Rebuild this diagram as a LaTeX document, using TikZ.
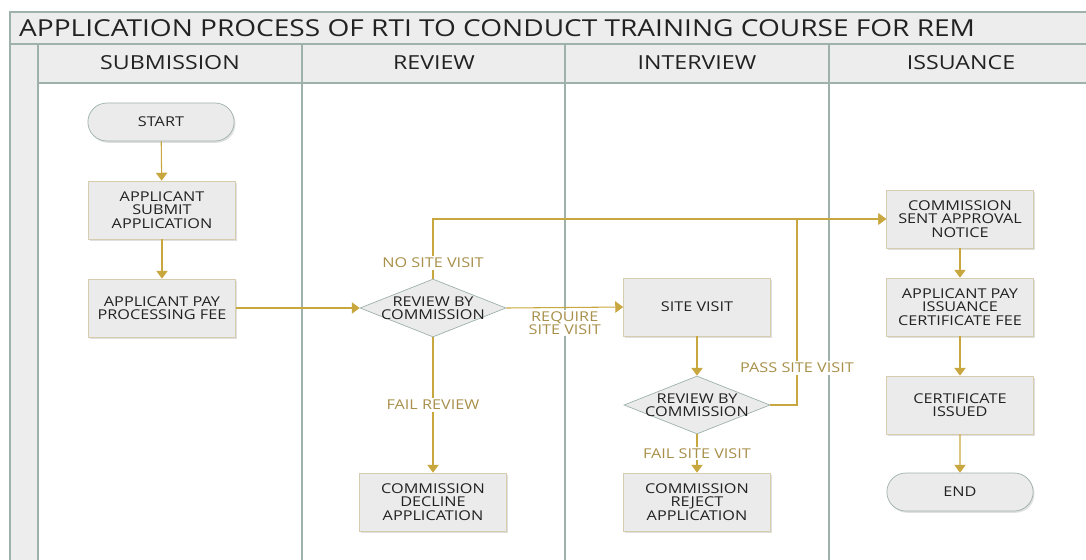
\documentclass[tikz,border=0pt]{standalone}
\usepackage{fontspec}
\setmainfont{Open Sans}[FakeStretch=1.2]
\usetikzlibrary{shapes.geometric,shapes.misc,arrows.meta,positioning,shadows}

\definecolor{flowgold}{HTML}{C9A73F}
\definecolor{labelgold}{HTML}{A8904A}
\definecolor{lanegray}{HTML}{9EB1AB}
\definecolor{boxfill}{HTML}{EBEBEB}
\definecolor{boxedge}{HTML}{D5CDAE}
\definecolor{headfill}{HTML}{EDEDED}
\definecolor{inkdark}{HTML}{222222}

\tikzset{
    boxfont/.style={font=\fontsize{7.7}{7.5}\selectfont},
    process/.style={rectangle, draw=boxedge, fill=boxfill, align=center, boxfont, text=inkdark,
        minimum width=2.94cm, minimum height=1.16cm, inner sep=1pt,
        drop shadow={shadow xshift=0.8pt, shadow yshift=-1pt, opacity=0.25}},
    decision/.style={diamond, aspect=2.5, draw=lanegray, fill=boxfill, align=center, boxfont, text=inkdark,
        minimum width=2.92cm, minimum height=1.16cm, inner sep=-1.5pt},
    terminal/.style={rounded rectangle, draw=lanegray, fill=boxfill, boxfont, text=inkdark,
        minimum width=3.16cm, minimum height=0.76cm,
        drop shadow={shadow xshift=0.8pt, shadow yshift=-1pt, opacity=0.25}},
    flow/.style={draw=flowgold, line width=0.6pt, -{Triangle[width=6.5pt,length=4.5pt]}},
    flowlabel/.style={fill=white, text=labelgold, boxfont, inner sep=1pt, align=center},
    lanehead/.style={font=\fontsize{11}{12}\selectfont, text=inkdark},
    laneline/.style={draw=lanegray, line width=0.7pt}
}

\begin{document}
\begin{tikzpicture}[x=0.02cm, y=-0.02cm]
    \useasboundingbox (0,0) rectangle (1086,559);
    \clip (0,0) rectangle (1086,559);

    % pool frame and lanes
    \draw[laneline, fill=headfill] (10,12) rectangle (1100,44);
    \node[anchor=west, font=\fontsize{13.3}{14}\selectfont, text=inkdark] (title) at (13,28)
        {APPLICATION PROCESS OF RTI TO CONDUCT TRAINING COURSE FOR REM};
    \draw[laneline, fill=headfill] (10,44) rectangle (38,570);
    \foreach \lx/\lname in {38/SUBMISSION,302/REVIEW,565/INTERVIEW,829/ISSUANCE}{
        \draw[laneline, fill=headfill] (\lx,44) rectangle ++(264,39);
        \node[lanehead] (head-\lname) at (\lx+132,63) {\lname};
        \draw[laneline] (\lx,83) -- (\lx,570);
    }

    % submission
    \node[terminal] (start) at (161,122) {START};
    \node[process] (submit) at (162,210) {APPLICANT\\SUBMIT\\APPLICATION};
    \node[process] (payfee) at (162,308) {APPLICANT PAY\\PROCESSING FEE};

    % review
    \node[decision] (review) at (433,308) {REVIEW BY\\COMMISSION};
    \node[process] (decline) at (433,502) {COMMISSION\\DECLINE\\APPLICATION};

    % interview
    \node[process] (sitevisit) at (697,307) {SITE VISIT};
    \node[decision] (check) at (697,405) {REVIEW BY\\COMMISSION};
    \node[process] (reject) at (697,502) {COMMISSION\\REJECT\\APPLICATION};

    % issuance
    \node[process] (approval) at (960,219) {COMMISSION\\SENT APPROVAL\\NOTICE};
    \node[process] (payissue) at (960,307) {APPLICANT PAY\\ISSUANCE\\CERTIFICATE FEE};
    \node[process] (issued) at (960,405) {CERTIFICATE\\ISSUED};
    \node[terminal] (end) at (960,492) {END};

    \coordinate (passturn) at (797,219);

    % connectors
    \draw[flow] (start) -- (submit);
    \draw[flow] (submit) -- (payfee);
    \draw[flow] (payfee) -- (review);
    \draw[flow] (review.north) |- node[flowlabel, pos=0.13] {NO SITE VISIT} (approval.west);
    \draw[flow] (review.east) -- node[flowlabel, below=1pt, pos=0.5] {REQUIRE\\SITE VISIT} (sitevisit.west);
    \draw[flow] (review.south) -- node[flowlabel] {FAIL REVIEW} (decline.north);
    \draw[flow] (sitevisit) -- (check);
    \draw[flow] (check.east) -| node[flowlabel, pos=0.6] {PASS SITE VISIT} (passturn) -- (approval.west);
    \draw[flow] (check.south) -- node[flowlabel] {FAIL SITE VISIT} (reject.north);
    \draw[flow] (approval) -- (payissue);
    \draw[flow] (payissue) -- (issued);
    \draw[flow] (issued) -- (end);
\end{tikzpicture}
\end{document}
